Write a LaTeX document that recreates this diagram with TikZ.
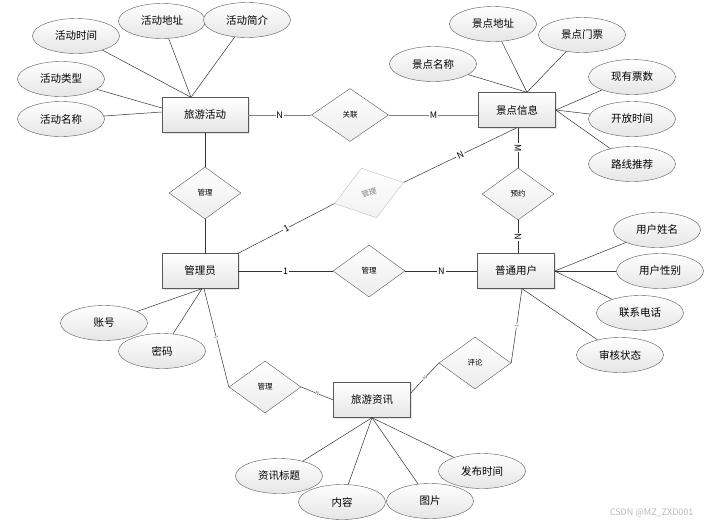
\documentclass[tikz,border=0pt]{standalone}
\usepackage{fontspec}
\setmainfont{Noto Sans CJK SC}
\usetikzlibrary{shapes.geometric,shadows}

\begin{document}
\begin{tikzpicture}[x=1pt,y=-1pt,
    entity/.style={draw=gray!70!black,rectangle,top color=white,bottom color=gray!20,
      minimum width=77pt,minimum height=35pt,font=\fontsize{10.5}{12}\selectfont,
      drop shadow={opacity=0.2,shadow xshift=1.5pt,shadow yshift=-1.5pt}},
    attr/.style={draw=gray!70!black,ellipse,top color=white,bottom color=gray!20,
      minimum width=87pt,minimum height=35pt,inner sep=0pt,font=\fontsize{10.5}{12}\selectfont},
    rel/.style={draw=gray!70!black,diamond,top color=white,bottom color=gray!15,
      minimum width=72pt,minimum height=52pt,inner sep=0pt,font=\fontsize{7.5}{9}\selectfont},
    link/.style={draw=black!80,line width=0.5pt},
    card/.style={fill=white,inner sep=1pt,font=\fontsize{9}{10}\selectfont},
    tinycard/.style={fill=white,inner sep=0.3pt,text=gray!80!black,font=\fontsize{5}{5}\selectfont,sloped}]
  \useasboundingbox (0,0) rectangle (712,525);

  % entities
  \node[entity,minimum width=86pt] (act)  at (205,115) {旅游活动};
  \node[entity]                    (spot) at (517,110) {景点信息};
  \node[entity,minimum width=76pt] (adm)  at (200,271) {管理员};
  \node[entity]                    (user) at (516,271) {普通用户};
  \node[entity]                    (info) at (372,400) {旅游资讯};

  % relations
  \node[rel,minimum width=77pt,minimum height=53pt] (assoc) at (350,115) {关联};
  \node[rel] (mgr1) at (205,193) {管理};
  \node[rel,draw=gray!50,text=gray,bottom color=gray!10,rotate=17] (mgr2) at (369,193) {管理};
  \node[rel] (book) at (518,194) {预约};
  \node[rel] (mgr3) at (369,271) {管理};
  \node[rel] (mgr4) at (265,387) {管理};
  \node[rel] (cmt)  at (475,363) {评论};

  % attributes of 旅游活动
  \node[attr] (a1) at (76,36)   {活动时间};
  \node[attr] (a2) at (162,21)  {活动地址};
  \node[attr] (a3) at (247,20)  {活动简介};
  \node[attr] (a4) at (61,79)   {活动类型};
  \node[attr] (a5) at (61,119)  {活动名称};

  % attributes of 景点信息
  \node[attr] (s1) at (493,24)  {景点地址};
  \node[attr] (s2) at (582,35)  {景点门票};
  \node[attr] (s3) at (433,64)  {景点名称};
  \node[attr] (s4) at (632,77)  {现有票数};
  \node[attr] (s5) at (632,119) {开放时间};
  \node[attr] (s6) at (632,164) {路线推荐};

  % attributes of 普通用户
  \node[attr] (u1) at (657,230) {用户姓名};
  \node[attr] (u2) at (660,271) {用户性别};
  \node[attr] (u3) at (640,313) {联系电话};
  \node[attr] (u4) at (620,355) {审核状态};

  % attributes of 管理员
  \node[attr] (m1) at (104,323) {账号};
  \node[attr] (m2) at (162,351) {密码};

  % attributes of 旅游资讯
  \node[attr] (i1) at (279,476) {资讯标题};
  \node[attr] (i2) at (342,502) {内容};
  \node[attr] (i3) at (430,501) {图片};
  \node[attr] (i4) at (482,471) {发布时间};

  \node[text=gray!55,font=\fontsize{9}{10}\selectfont,anchor=east] (mark) at (697,513) {CSDN @MZ\_ZXD001};

  % attribute lines
  \foreach \a in {a1,a2,a3} \draw[link] (\a) -- ([xshift=-14pt]act.north);
  \draw[link] (a4) -- ([yshift=7pt]act.west);
  \draw[link] (a5) -- ([yshift=3pt]act.west);
  \foreach \a in {s1,s2,s3} \draw[link] (\a) -- ([xshift=10pt]spot.north);
  \foreach \a in {s4,s5,s6} \draw[link] (\a) -- (spot.east);
  \foreach \a in {u1,u2,u3} \draw[link] (\a) -- (user.east);
  \draw[link] (u4) -- ([xshift=6pt]user.south);
  \foreach \a in {m1,m2} \draw[link] (\a) -- ([xshift=2pt]adm.south);
  \foreach \a in {i1,i2,i3,i4} \draw[link] (\a) -- (info.south);

  % relation lines
  \draw[gray,line width=1pt] (act.east) -- node[card,text=black] {N} (assoc.west);
  \draw[gray,line width=1pt] (assoc.east) -- node[card,text=black] {M} (assoc.east -| spot.west);
  \draw[link] (act.south) -- (mgr1.north);
  \draw[link] (mgr1.south) -- (mgr1.south |- adm.north);
  \draw[link] (adm.north east) -- node[card,sloped] {1} (mgr2.west);
  \draw[link] (mgr2.east) -- node[card,sloped] {N} (spot.south);
  \draw[link] (spot.south -| book.north) -- node[card,sloped] {M} (book.north);
  \draw[link] (book.south) -- node[card,sloped] {N} (book.south |- user.north);
  \draw[link] (adm.east) -- node[card] {1} (mgr3.west);
  \draw[link] (mgr3.east) -- node[card] {N} (user.west);
  \draw[link] ([xshift=4pt]adm.south) -- node[tinycard] {1} (mgr4.west);
  \draw[link] (mgr4.east) -- node[tinycard] {N} (info.west);
  \draw[link] ([yshift=7pt]info.east) -- node[tinycard] {N} (cmt.west);
  \draw[link] (cmt.east) -- node[tinycard] {1} ([xshift=6pt]user.south);
\end{tikzpicture}
\end{document}
